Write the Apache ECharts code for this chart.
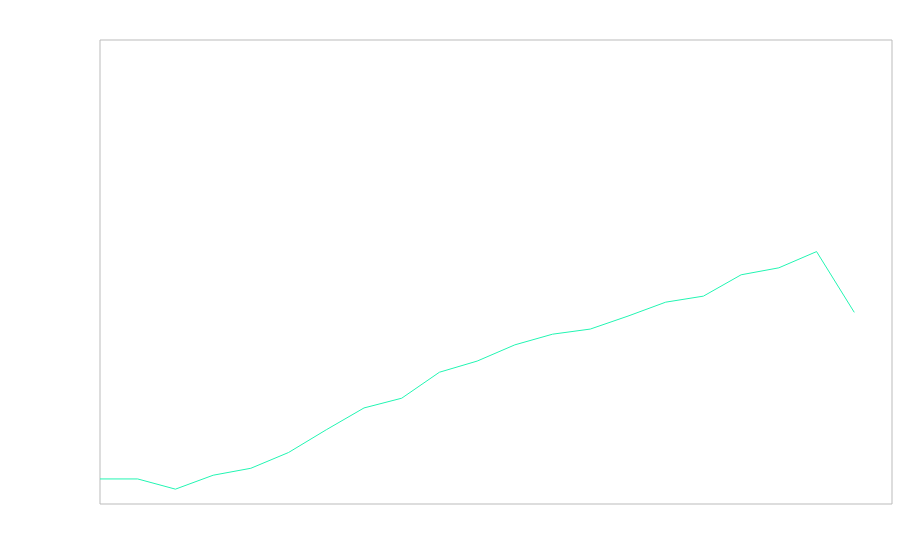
<!DOCTYPE html>
<html>
<head>
<meta charset="utf-8">
<script src="https://cdn.jsdelivr.net/npm/echarts@6/dist/echarts.min.js"></script>
<style>
    html, body { margin: 0; padding: 0; background: #fff; }
    #chart { width: 900px; height: 560px; }
</style>
</head>
<body>
<div id="chart"></div>
<script>
// categories (the axis has one more slot than the data)
const categories = ['1', '2', '3', '4', '5', '6', '7', '8', '9', '10', '11',
    '12', '13', '14', '15', '16', '17', '18', '19', '20', '21', '22']

// series values
const values = [5.4, 5.4, 3.2, 6.2, 7.7, 11.1, 16.0, 20.7, 22.8, 28.4, 30.8,
    34.3, 36.6, 37.7, 40.5, 43.5, 44.8, 49.4, 50.9, 54.4, 41.3]

const chart = echarts.init(document.getElementById('chart'))

chart.setOption({
    animation: false,
    grid: {
        left: 100,
        right: 8,
        top: 40,
        bottom: 56,
        show: true,
        borderColor: '#bbb',
        borderWidth: 1
    },
    xAxis: {
        type: 'category',
        data: categories,
        boundaryGap: false,
        axisLine: { show: false },
        axisTick: { show: false },
        axisLabel: { show: false },
        splitLine: { show: false }
    },
    yAxis: {
        type: 'value',
        min: 0,
        max: 100,
        axisLine: { show: false },
        axisTick: { show: false },
        axisLabel: { show: false },
        splitLine: { show: false }
    },
    series: [{
        type: 'line',
        data: values,
        symbol: 'none',
        lineStyle: {
            color: '#22f5b2',
            width: 1
        }
    }]
})
</script>
</body>
</html>
